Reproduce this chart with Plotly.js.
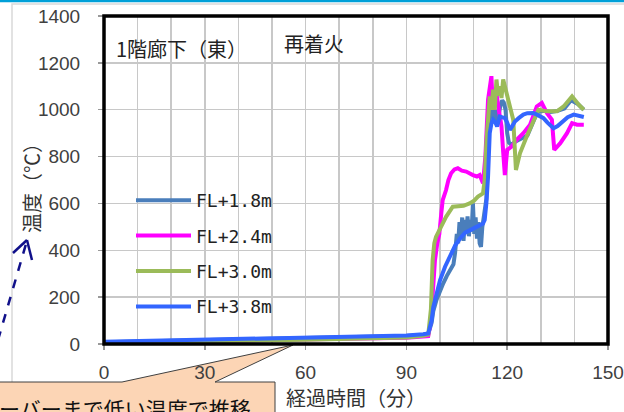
<!DOCTYPE html>
<html>
<head>
<meta charset="utf-8">
<script src="https://cdn.plot.ly/plotly-3.0.1.min.js"></script>
<style>
html,body{margin:0;padding:0;background:#fff;}
#chart{width:624px;height:412px;}
</style>
</head>
<body>
<div id="chart"></div>
<script>
// ---- data (time in minutes, temperature in °C) ----
const seriesNames = ['FL+1.8m', 'FL+2.4m', 'FL+3.0m', 'FL+3.8m'];
const seriesColors = ['#4A7EBB', '#FF00FF', '#9BBB59', '#3366FF'];

const t18 = [0,10,20,30,40,50,60,70,80,90,95,96.5,97.5,98,99,100,101,102,103,104,104.5,105,105.4,105.8,106.2,106.6,107,107.4,107.8,108.2,108.6,109,109.4,109.8,110.2,110.6,111,111.4,111.8,112.2,112.6,113,113.4,113.8,114.2,114.6,115,115.5,116,116.5,117,117.5,118,118.5,119,119.5,120,120.5,121.3,122.5,124,126,127.5,129,131,133,135,137,139,141,142.8];
const v18 = [8,11,14,17,19,21,24,27,30,34,40,43,90,140,190,230,260,290,315,340,390,470,430,520,450,540,440,530,470,545,460,530,480,600,470,540,450,520,430,415,500,540,560,620,800,950,980,1010,960,1000,940,990,1020,1040,1030,1000,900,860,850,865,875,890,940,990,995,990,995,1005,1040,1025,1000];

const t24 = [0,10,20,30,40,50,60,70,80,90,95,96.5,97.3,98,98.5,99.2,99.8,100.4,100.8,101.8,102.5,103.3,104.3,105.3,106.5,107.8,109,109.8,111,111.8,112.8,113.5,114.3,115,115.3,115.6,116,116.4,116.8,117.5,118.3,118.8,119.3,120,121.3,122.8,124.8,126.8,128.8,130.3,131.8,133.3,134,135.8,137.8,139.3,140.8,142.8];
const v24 = [5,7,9,11,13,15,17,19,22,27,32,34,100,250,357,430,470,560,614,657,700,729,745,750,740,736,725,721,715,721,686,800,1043,1140,1143,1050,1000,1060,1071,1000,929,820,721,829,843,871,900,936,1014,1029,986,957,829,857,900,943,936,936];

const t30 = [0,10,20,30,40,50,60,70,80,90,95,96.5,97.3,97.8,98.3,98.8,100.3,101.8,103.8,105.8,107,108.8,110,111.3,112.8,113.3,113.8,114.8,115.3,115.8,116.3,116.8,117.3,117.8,118.3,118.8,119.6,120.8,121.8,122.6,123.8,125.8,127.8,129.3,131.8,134.8,136.8,139.3,141.3,142.8];
const v30 = [5,8,10,12,14,16,18,20,23,28,35,40,150,357,430,457,500,543,586,586,590,600,610,629,643,700,857,1057,1000,1086,1000,1129,1060,1100,1050,1129,1086,1014,957,743,814,886,957,1000,993,993,1014,1057,1021,1000];

const t38 = [0,10,20,30,40,50,60,70,80,90,95,96.5,97.5,98,99,100,101.5,103,104.5,106,107.5,109,110.8,112,112.8,113.3,113.8,114.3,114.8,115.3,115.8,116.5,117,117.8,118.5,119.3,120,120.8,121.5,122.3,123.5,124.8,126,127.8,129,130.8,132,133.8,135,136.8,138,139.8,141,142.8];
const v38 = [10,13,16,19,21,23,26,29,32,36,42,45,100,157,214,272,330,372,420,451,475,486,500,510,514,529,600,714,900,940,957,945,929,971,968,964,945,914,930,950,965,979,985,986,978,964,945,921,930,950,968,979,975,969];

const xTickVals = [0,30,60,90,120,150];
const reignitionTime = 50;
const labelLocation = '1階廊下（東）';
const labelEvent = '再着火';
const calloutText = 'ーバーまで低い温度で推移';
const xTitle = '経過時間（分）';
const yTitle = '温度（℃）';

// ---- helpers: pixel -> paper coordinates ----
const W = 624, H = 412;
const ML = 104, MR = 16, MT = 16, MB = 68;
const PW = W - ML - MR, PH = H - MT - MB;
const X = px => (px - ML) / PW;
const Y = py => (H - MB - py) / PH;

const xs = [t18, t24, t30, t38];
const ys = [v18, v24, v30, v38];

const traces = seriesNames.map((n, i) => ({
  type: 'scatter', mode: 'lines', name: n, x: xs[i], y: ys[i],
  legendgroup: 'g' + i,
  line: {color: seriesColors[i], width: 4}
}));

const calloutPath = 'M' + X(-6) + ',' + Y(382) + ' L' + X(122) + ',' + Y(382) +
  ' L' + X(293) + ',' + Y(345) + ' L' + X(215) + ',' + Y(382) +
  ' L' + X(275) + ',' + Y(382) + ' L' + X(275) + ',' + Y(425) +
  ' L' + X(-6) + ',' + Y(425) + ' Z';

const layout = {
  width: W, height: H,
  margin: {l: ML, r: MR, t: MT, b: MB, pad: 0},
  paper_bgcolor: '#ffffff', plot_bgcolor: '#ffffff',
  showlegend: true,
  font: {family: 'Liberation Sans, Arial, sans-serif', color: '#404040'},
  xaxis: {
    range: [0, 150], tickvals: xTickVals, ticktext: xTickVals.map(String),
    showgrid: true, gridcolor: '#c8c8c8', gridwidth: 1.5,
    minor: {dtick: 10, showgrid: true, gridcolor: '#c8c8c8', gridwidth: 1.5},
    zeroline: false, showline: false,
    ticks: 'outside', ticklen: 5, tickwidth: 1.5, tickcolor: '#999',
    ticklabelstandoff: 6,
    tickfont: {size: 19, color: '#404040', family: 'Liberation Sans, Arial, sans-serif'},
    title: {text: xTitle, standoff: 1,
      font: {family: 'Noto Sans CJK JP', size: 20, color: '#333'}}
  },
  yaxis: {
    range: [0, 1400], dtick: 200, tick0: 0,
    showgrid: true, gridcolor: '#c8c8c8', gridwidth: 1.5,
    zeroline: false, showline: false,
    ticks: 'outside', ticklen: 5, tickwidth: 1.5, tickcolor: '#999',
    ticklabelstandoff: 14,
    tickfont: {size: 19, color: '#404040', family: 'Liberation Sans, Arial, sans-serif'}
  },
  legend: {
    x: X(131), y: Y(182), xanchor: 'left', yanchor: 'top',
    bgcolor: 'rgba(255,255,255,0)', borderwidth: 0,
    itemwidth: 55, tracegroupgap: 9,
    font: {family: 'DejaVu Sans Mono, Liberation Mono, monospace', size: 18, color: '#222'}
  },
  shapes: [
    // outer chart-area border
    {type: 'rect', xref: 'paper', yref: 'paper', x0: X(12), x1: X(660), y0: Y(440), y1: Y(4),
      line: {color: '#d9d9d9', width: 1.5}, fillcolor: 'rgba(0,0,0,0)', layer: 'below'},
    // slide cyan line at top
    {type: 'line', xref: 'paper', yref: 'paper', x0: X(-10), x1: X(640), y0: Y(1), y1: Y(1),
      line: {color: '#00A0D8', width: 2.5}, layer: 'below'},
    // re-ignition marker
    {type: 'line', xref: 'x', yref: 'paper', x0: reignitionTime, x1: reignitionTime, y0: 0, y1: 1,
      line: {color: '#333333', width: 1.5}, layer: 'between'},
    // legend background box
    {type: 'rect', xref: 'paper', yref: 'paper', x0: X(106), x1: X(290), y0: Y(323), y1: Y(182),
      line: {width: 0}, fillcolor: '#ffffff', layer: 'between'},
    // plot frame
    {type: 'rect', xref: 'paper', yref: 'paper', x0: 0, x1: 1, y0: 0, y1: 1,
      line: {color: '#000000', width: 3.5}, fillcolor: 'rgba(0,0,0,0)', layer: 'above'},
    // callout
    {type: 'path', xref: 'paper', yref: 'paper', path: calloutPath,
      fillcolor: '#FCD5B5', line: {color: '#404040', width: 1}, layer: 'below'},
    // dashed arrow
    {type: 'line', xref: 'paper', yref: 'paper', x0: X(-2), y0: Y(340), x1: X(26), y1: Y(244),
      line: {color: '#10108A', width: 2.5, dash: 'dash'}, layer: 'above'},
    {type: 'line', xref: 'paper', yref: 'paper', x0: X(27), y0: Y(240), x1: X(13), y1: Y(253),
      line: {color: '#10108A', width: 2.5}, layer: 'above'},
    {type: 'line', xref: 'paper', yref: 'paper', x0: X(27), y0: Y(240), x1: X(32), y1: Y(260),
      line: {color: '#10108A', width: 2.5}, layer: 'above'}
  ],
  annotations: [
    {xref: 'paper', yref: 'paper', x: X(31), y: Y(183), xanchor: 'center', yanchor: 'middle',
      text: yTitle, textangle: -90, showarrow: false,
      font: {family: 'Noto Sans CJK JP', size: 20, color: '#333'}},
    {xref: 'paper', yref: 'paper', x: X(114), y: Y(49), xanchor: 'left', yanchor: 'middle',
      text: labelLocation, showarrow: false,
      font: {family: 'Noto Sans CJK JP', size: 20, color: '#222'}},
    {xref: 'paper', yref: 'paper', x: X(282), y: Y(44), xanchor: 'left', yanchor: 'middle',
      text: labelEvent, showarrow: false,
      font: {family: 'Noto Sans CJK JP', size: 20, color: '#222'}},
    {xref: 'paper', yref: 'paper', x: X(-3), y: Y(408), xanchor: 'left', yanchor: 'middle',
      text: calloutText, showarrow: false,
      font: {family: 'Noto Sans CJK JP', size: 21, color: '#111'}}
  ]
};

Plotly.newPlot('chart', traces, layout, {displayModeBar: false, staticPlot: true});
</script>
</body>
</html>
